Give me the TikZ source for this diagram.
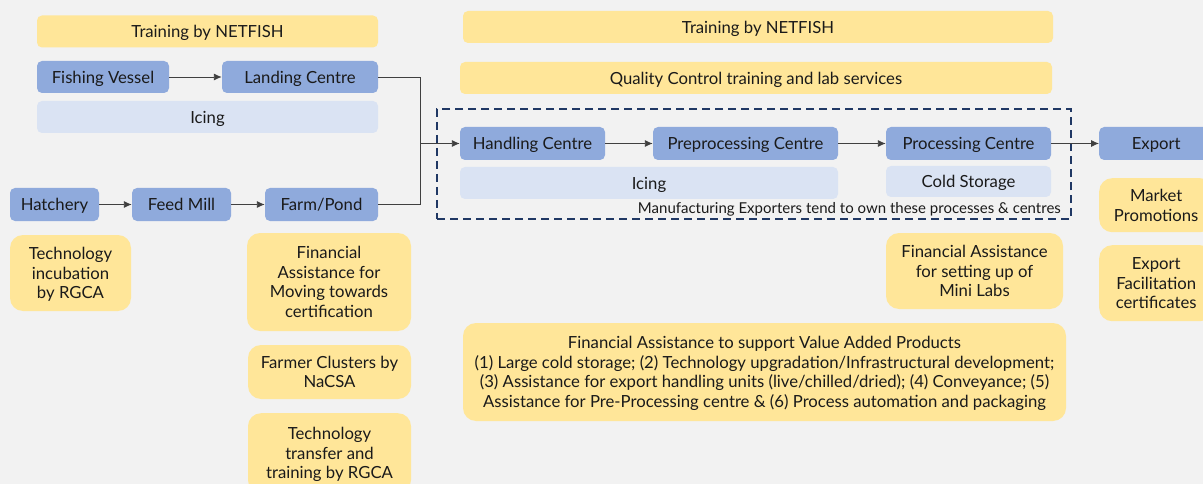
\documentclass[tikz,border=0pt]{standalone}
\usepackage{fontspec}
\setmainfont{Lato}
\usetikzlibrary{arrows.meta}

\definecolor{stageblue}{HTML}{8FAADC}
\definecolor{iceblue}{HTML}{DAE3F3}
\definecolor{helpyellow}{HTML}{FFE699}
\definecolor{groupnavy}{HTML}{203864}
\definecolor{backgrey}{HTML}{F2F2F2}
\definecolor{inkgrey}{HTML}{1A1A1A}

\tikzset{
	box/.style={rounded corners=5pt, inner sep=0pt, align=center, text=inkgrey, text depth=0pt,
		font=\fontsize{16.7}{19.6}\selectfont},
	stage/.style={box, fill=stageblue},
	ice/.style={box, fill=iceblue},
	help/.style={box, fill=helpyellow},
	roundhelp/.style={help, rounded corners=13pt},
	group/.style={draw=groupnavy, line width=1.6pt, dash pattern=on 8pt off 5pt, inner sep=0pt},
	link/.style={draw=black!75, line width=0.9pt},
	flow/.style={link, -{Latex[length=8pt,width=7pt]}},
}

\begin{document}
\begin{tikzpicture}[x=1pt,y=-1pt]
	\fill[backgrey] (0,0) rectangle (1203,484);
	\useasboundingbox (0,0) rectangle (1203,484);

	% capture and culture side
	\node[help, minimum width=341, minimum height=32] (trainL) at (207.5,31.5) {Training by NETFISH};
	\node[stage, minimum width=132, minimum height=32] (vessel) at (103,77) {Fishing Vessel};
	\node[stage, minimum width=156, minimum height=32] (landing) at (300,77) {Landing Centre};
	\node[ice, minimum width=341, minimum height=32] (iceL) at (207.5,117) {Icing};
	\node[stage, minimum width=89, minimum height=33] (hatchery) at (54.5,204.5) {Hatchery};
	\node[stage, minimum width=99, minimum height=33] (feed) at (181.5,204.5) {Feed Mill};
	\node[stage, minimum width=113, minimum height=33] (farm) at (321.5,204.5) {Farm/Pond};
	\node[roundhelp, minimum width=121, minimum height=76] (incub) at (70.5,273) {Technology\\incubation\\by RGCA};
	\node[roundhelp, minimum width=164, minimum height=98] (certif) at (329,282) {Financial\\Assistance for\\Moving towards\\certification};
	\node[roundhelp, minimum width=163, minimum height=54] (cluster) at (329.5,372) {Farmer Clusters by\\NaCSA};
	\node[roundhelp, minimum width=163, minimum height=80, anchor=north] (transfer) at (329.5,413) {Technology\\transfer and\\training by RGCA};

	% processing side
	\node[help, minimum width=590, minimum height=32] (trainR) at (758,27) {Training by NETFISH};
	\node[help, minimum width=592, minimum height=32] (quality) at (756,78) {Quality Control training and lab services};
	\node[group, minimum width=634, minimum height=110] (makers) at (754,164) {};
	\node[stage, minimum width=145, minimum height=33] (handling) at (532.5,143.5) {Handling Centre};
	\node[stage, minimum width=185, minimum height=33] (prepro) at (745.5,143.5) {Preprocessing Centre};
	\node[stage, minimum width=165, minimum height=33] (processing) at (968.5,143.5) {Processing Centre};
	\node[ice, minimum width=378, minimum height=32] (iceR) at (649,183) {Icing};
	\node[ice, minimum width=165, minimum height=31] (cold) at (968.5,181.5) {Cold Storage};
	\node[anchor=east, inner sep=0pt, text=inkgrey, text depth=0pt, font=\fontsize{15}{17}\selectfont] (owners) at (1061,208)
		{Manufacturing Exporters tend to own these processes \& centres};
	\node[roundhelp, minimum width=177, minimum height=76] (minilab) at (974.5,271) {Financial Assistance\\for setting up of\\Mini Labs};
	\node[roundhelp, minimum width=603, minimum height=98] (vap) at (764.5,372)
		{Financial Assistance to support Value Added Products\\
		(1) Large cold storage; (2) Technology upgradation/Infrastructural development;\\
		(3) Assistance for export handling units (live/chilled/dried); (4) Conveyance; (5)\\
		Assistance for Pre-Processing centre \& (6) Process automation and packaging};

	% export side
	\node[stage, minimum width=114, minimum height=33, anchor=west] (export) at (1099,143.5) {Export};
	\node[roundhelp, minimum width=114, minimum height=54, anchor=north west] (promo) at (1099,178) {Market\\Promotions};
	\node[roundhelp, minimum width=114, minimum height=76, anchor=north west] (facil) at (1099,245) {Export\\Facilitation\\certificates};

	% connectors
	\coordinate (join) at (420,143.5);
	\draw[flow] (vessel) -- (landing);
	\draw[flow] (hatchery) -- (feed);
	\draw[flow] (feed) -- (farm);
	\draw[link] (landing.east) -| (join);
	\draw[link] (farm.east) -| (join);
	\draw[flow] (join) -- (handling);
	\draw[flow] (handling) -- (prepro);
	\draw[flow] (prepro) -- (processing);
	\draw[flow] (processing) -- (export);
\end{tikzpicture}
\end{document}
